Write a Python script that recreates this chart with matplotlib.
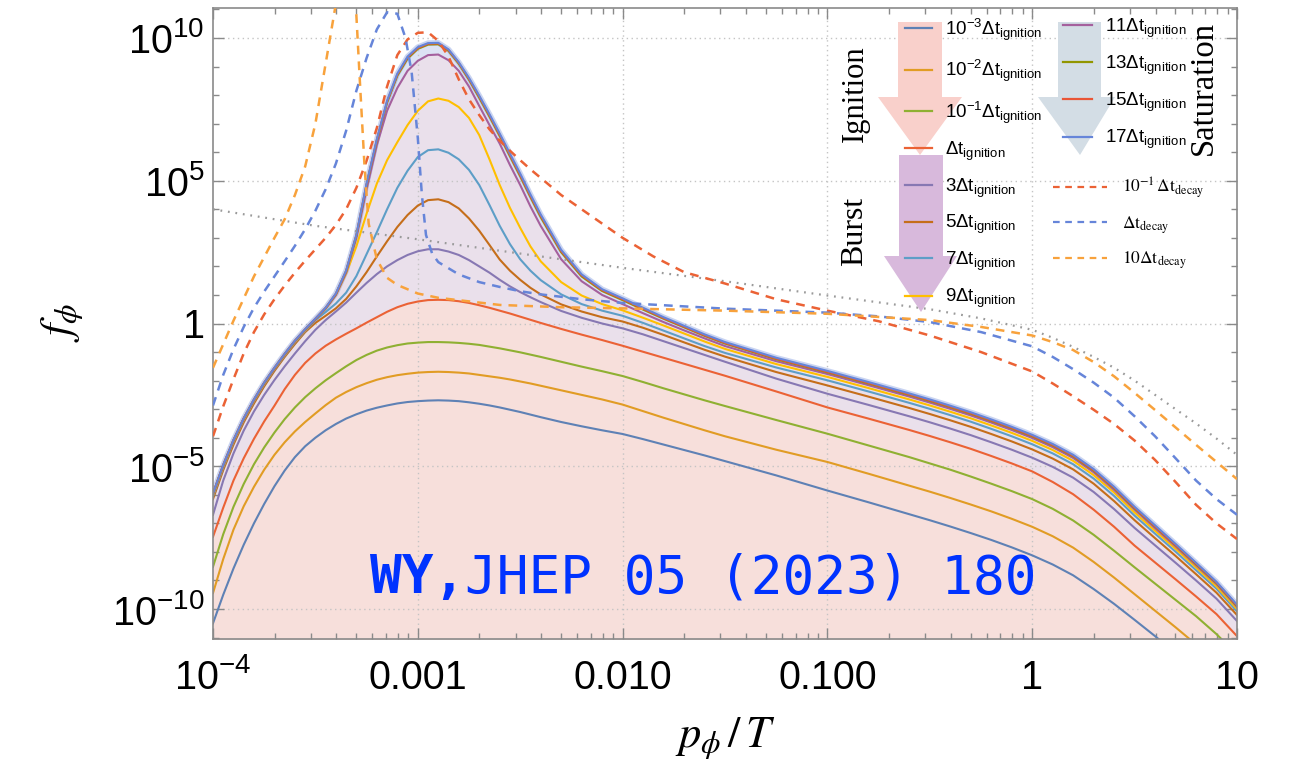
import numpy as np
import matplotlib
matplotlib.use('Agg')
import matplotlib.pyplot as plt
from matplotlib.lines import Line2D
from matplotlib.patches import Polygon
from matplotlib.ticker import FixedLocator, NullFormatter

plt.rcParams['font.family'] = ['Liberation Sans', 'DejaVu Sans']
plt.rcParams['mathtext.fontset'] = 'custom'
plt.rcParams['mathtext.rm'] = 'Liberation Sans'
plt.rcParams['mathtext.it'] = 'Liberation Sans:italic'
plt.rcParams['mathtext.bf'] = 'Liberation Sans:bold'
plt.rcParams['mathtext.sf'] = 'Liberation Sans'

# ---------------- data (log10 values) ----------------
log_p = [-4.0, -3.95, -3.9, -3.85, -3.8, -3.75, -3.7, -3.65, -3.6, -3.55,
         -3.5, -3.45, -3.4, -3.35, -3.3, -3.25, -3.2, -3.15, -3.1, -3.05,
         -3.0, -2.95, -2.9, -2.85, -2.8, -2.75, -2.7, -2.65, -2.6, -2.55,
         -2.5, -2.45, -2.4, -2.3, -2.2, -2.1, -2.0, -1.9, -1.8, -1.7,
         -1.6, -1.5, -1.25, -1.0, -0.8, -0.6, -0.5, -0.4, -0.3, -0.2, -0.1,
         0.0, 0.1, 0.2, 0.3, 0.4, 0.5, 0.6, 0.7, 0.8, 0.9, 1.0]

log_f_1em3 = [-10.5, -9.5, -8.58, -7.75, -7.0, -6.32, -5.7, -5.15, -4.68, -4.3,
              -4.0, -3.74, -3.52, -3.33, -3.18, -3.05, -2.95, -2.87, -2.8, -2.75,
              -2.72, -2.7, -2.69, -2.7, -2.72, -2.76, -2.81, -2.87, -2.94, -3.02,
              -3.1, -3.19, -3.28, -3.45, -3.6, -3.74, -3.87, -4.05, -4.24, -4.43,
              -4.62, -4.82, -5.32, -5.85, -6.26, -6.68, -6.89, -7.11, -7.34, -7.58, -7.84,
              -8.12, -8.44, -8.82, -9.3, -9.82, -10.38, -10.95, -11.55, -12.15, -12.8, -13.5]
log_f_1em2 = [-9.44, -8.25, -7.22, -6.4, -5.72, -5.12, -4.6, -4.16, -3.78, -3.45,
              -3.15, -2.86, -2.6, -2.4, -2.23, -2.09, -1.97, -1.88, -1.81, -1.76,
              -1.72, -1.7, -1.69, -1.7, -1.72, -1.75, -1.8, -1.85, -1.9, -1.96,
              -2.03, -2.1, -2.18, -2.34, -2.5, -2.66, -2.84, -3.07, -3.3, -3.52,
              -3.74, -3.95, -4.42, -4.85, -5.26, -5.68, -5.89, -6.11, -6.34, -6.58, -6.84,
              -7.12, -7.45, -7.85, -8.35, -8.9, -9.48, -10.06, -10.64, -11.24, -11.9, -12.6]
log_f_1em1 = [-8.52, -7.38, -6.42, -5.62, -4.93, -4.34, -3.82, -3.35, -2.94, -2.58,
              -2.27, -1.99, -1.74, -1.5, -1.28, -1.1, -0.95, -0.84, -0.76, -0.7,
              -0.67, -0.65, -0.65, -0.66, -0.68, -0.71, -0.75, -0.81, -0.87, -0.94,
              -1.01, -1.09, -1.17, -1.34, -1.51, -1.67, -1.84, -2.05, -2.27, -2.48,
              -2.69, -2.89, -3.38, -3.86, -4.27, -4.68, -4.9, -5.12, -5.36, -5.61, -5.87,
              -6.15, -6.49, -6.9, -7.4, -7.96, -8.54, -9.11, -9.68, -10.25, -10.88, -11.6]
log_f_1 = [-7.47, -6.45, -5.5, -4.72, -4.04, -3.43, -2.88, -2.3, -1.8, -1.38,
           -1.05, -0.78, -0.56, -0.36, -0.17, 0.03, 0.22, 0.41, 0.57, 0.69,
           0.77, 0.82, 0.83, 0.82, 0.78, 0.72, 0.64, 0.55, 0.45, 0.35,
           0.24, 0.13, 0.02, -0.19, -0.39, -0.58, -0.78, -0.99, -1.2, -1.41,
           -1.62, -1.83, -2.38, -2.94, -3.33, -3.73, -3.94, -4.16, -4.39, -4.64, -4.9,
           -5.18, -5.55, -5.98, -6.52, -7.12, -7.78, -8.37, -8.96, -9.56, -10.18, -10.95]
log_f_3 = [-6.7, -5.5, -4.55, -3.75, -3.08, -2.5, -1.98, -1.5, -1.05, -0.62,
           -0.22, 0.12, 0.42, 0.73, 1.08, 1.42, 1.73, 2.0, 2.22, 2.4,
           2.53, 2.6, 2.6, 2.52, 2.4, 2.22, 2.0, 1.78, 1.53, 1.3,
           1.1, 0.92, 0.75, 0.44, 0.2, 0.0, -0.17, -0.38, -0.62, -0.86,
           -1.1, -1.34, -1.93, -2.46, -2.85, -3.25, -3.46, -3.68, -3.91, -4.16, -4.42,
           -4.7, -5.02, -5.4, -5.9, -6.5, -7.16, -7.77, -8.38, -9.0, -9.64, -10.42]
log_f_5 = [-6.15, -5.13, -4.24, -3.46, -2.8, -2.2, -1.66, -1.17, -0.72, -0.3,
           0.02, 0.27, 0.53, 0.86, 1.3, 1.8, 2.35, 2.88, 3.38, 3.8,
           4.13, 4.32, 4.35, 4.25, 4.03, 3.68, 3.25, 2.75, 2.24, 1.85,
           1.53, 1.25, 1.02, 0.67, 0.42, 0.22, 0.07, -0.15, -0.4, -0.66,
           -0.92, -1.16, -1.7, -2.17, -2.56, -2.96, -3.17, -3.39, -3.62, -3.87, -4.13,
           -4.41, -4.73, -5.11, -5.61, -6.22, -6.89, -7.52, -8.14, -8.78, -9.43, -10.21]
log_f_7 = [-6.05, -5.04, -4.15, -3.38, -2.72, -2.13, -1.6, -1.12, -0.66, -0.26,
           0.12, 0.4, 0.7, 1.08, 1.66, 2.43, 3.2, 4.0, 4.75, 5.35,
           5.83, 6.07, 6.1, 5.98, 5.75, 5.38, 4.85, 4.15, 3.42, 2.78,
           2.25, 1.85, 1.52, 1.02, 0.68, 0.45, 0.27, 0.02, -0.25, -0.52,
           -0.79, -1.03, -1.54, -1.99, -2.38, -2.78, -2.99, -3.21, -3.44, -3.69, -3.95,
           -4.23, -4.55, -4.93, -5.43, -6.04, -6.73, -7.36, -7.99, -8.64, -9.29, -10.08]
log_f_9 = [-6.0, -5.0, -4.12, -3.36, -2.7, -2.11, -1.58, -1.1, -0.64, -0.24,
           0.15, 0.52, 1.0, 1.75, 2.7, 3.85, 4.9, 5.72, 6.35, 6.95,
           7.45, 7.78, 7.88, 7.8, 7.58, 7.2, 6.6, 5.75, 4.85, 4.05,
           3.35, 2.7, 2.18, 1.45, 0.98, 0.68, 0.46, 0.2, -0.07, -0.35,
           -0.63, -0.89, -1.42, -1.87, -2.26, -2.66, -2.87, -3.09, -3.32, -3.57, -3.83,
           -4.11, -4.43, -4.81, -5.31, -5.92, -6.62, -7.26, -7.89, -8.54, -9.21, -10.0]
log_f_11 = [-5.98, -4.98, -4.11, -3.35, -2.69, -2.1, -1.58, -1.09, -0.63, -0.23,
            0.14, 0.52, 1.0, 1.78, 3.0, 4.7, 6.25, 7.45, 8.25, 8.85,
            9.2, 9.4, 9.42, 9.22, 8.85, 8.3, 7.62, 6.95, 6.3, 5.55,
            4.85, 4.1, 3.42, 2.25, 1.48, 1.0, 0.68, 0.36, 0.05, -0.24,
            -0.52, -0.79, -1.32, -1.77, -2.16, -2.56, -2.77, -2.99, -3.22, -3.47, -3.73,
            -4.01, -4.33, -4.71, -5.21, -5.83, -6.52, -7.17, -7.81, -8.47, -9.13, -9.93]
log_f_13 = [-5.96, -4.96, -4.09, -3.33, -2.67, -2.08, -1.56, -1.07, -0.61, -0.21,
            0.16, 0.54, 1.03, 1.83, 3.07, 4.86, 6.4, 7.74, 8.68, 9.28,
            9.62, 9.77, 9.78, 9.55, 9.1, 8.54, 7.91, 7.25, 6.57, 5.86,
            5.16, 4.43, 3.73, 2.5, 1.65, 1.14, 0.82, 0.49, 0.17, -0.13,
            -0.43, -0.7, -1.25, -1.71, -2.1, -2.5, -2.71, -2.93, -3.16, -3.41, -3.67,
            -3.95, -4.27, -4.65, -5.15, -5.77, -6.47, -7.11, -7.76, -8.42, -9.09, -9.89]
log_f_15 = [-5.95, -4.95, -4.08, -3.32, -2.66, -2.07, -1.55, -1.06, -0.6, -0.2,
            0.17, 0.55, 1.04, 1.84, 3.09, 4.88, 6.43, 7.77, 8.72, 9.32,
            9.65, 9.8, 9.81, 9.58, 9.13, 8.57, 7.95, 7.29, 6.61, 5.9,
            5.2, 4.47, 3.78, 2.54, 1.69, 1.17, 0.85, 0.52, 0.19, -0.11,
            -0.41, -0.68, -1.23, -1.69, -2.08, -2.48, -2.69, -2.91, -3.14, -3.39, -3.65,
            -3.93, -4.25, -4.63, -5.13, -5.75, -6.45, -7.1, -7.75, -8.4, -9.07, -9.87]
log_f_17 = [-5.95, -4.95, -4.08, -3.32, -2.66, -2.07, -1.55, -1.06, -0.6, -0.2,
            0.17, 0.55, 1.05, 1.85, 3.1, 4.9, 6.45, 7.8, 8.75, 9.35,
            9.68, 9.82, 9.83, 9.6, 9.15, 8.6, 7.98, 7.33, 6.65, 5.95,
            5.25, 4.52, 3.82, 2.58, 1.72, 1.2, 0.88, 0.55, 0.22, -0.08,
            -0.38, -0.65, -1.2, -1.66, -2.05, -2.45, -2.66, -2.88, -3.11, -3.36, -3.62,
            -3.9, -4.22, -4.6, -5.1, -5.72, -6.42, -7.07, -7.72, -8.38, -9.05, -9.85]

decay01_logp = [-4.0, -3.95, -3.9, -3.85, -3.8, -3.75, -3.7, -3.65, -3.6, -3.55,
                -3.5, -3.45, -3.4, -3.35, -3.3, -3.25, -3.2, -3.15, -3.1, -3.05,
                -3.0, -2.95, -2.9, -2.85, -2.8, -2.75, -2.7, -2.65, -2.6, -2.55,
                -2.5, -2.45, -2.4, -2.3, -2.2, -2.1, -2.0, -1.85, -1.7, -1.5,
                -1.25, -1.0, -0.75, -0.5, -0.25, 0.0, 0.1, 0.2, 0.3, 0.4, 0.5, 0.6,
                0.7, 0.8, 0.9, 1.0]
decay01_logf = [-3.95, -2.9, -1.95, -1.05, -0.3, 0.32, 0.85, 1.33, 1.78, 2.2,
                2.6, 3.0, 3.45, 4.0, 4.75, 5.7, 6.85, 8.3, 9.4, 9.95,
                10.18, 10.2, 9.9, 9.35, 8.55, 7.85, 7.3, 6.8, 6.4, 6.05,
                5.72, 5.4, 5.1, 4.5, 4.0, 3.5, 3.0, 2.35, 1.8, 1.4,
                0.85, 0.45, 0.08, -0.42, -1.0, -1.68, -2.1, -2.55, -3.02, -3.52, -4.1, -4.78,
                -5.55, -6.35, -7.0, -7.55]
decay1_logp = [-4.0, -3.95, -3.9, -3.85, -3.8, -3.75, -3.7, -3.65, -3.6, -3.55,
               -3.5, -3.45, -3.4, -3.35, -3.3, -3.25, -3.2, -3.15, -3.1, -3.06,
               -3.03, -3.0, -2.98, -2.96, -2.93, -2.9, -2.8, -2.7, -2.6, -2.5,
               -2.4, -2.2, -2.0, -1.5, -1.0, -0.75, -0.5, -0.25, 0.0,
               0.1, 0.2, 0.3, 0.4, 0.5, 0.6, 0.7, 0.8, 0.9, 1.0]
decay1_logf = [-2.87, -1.8, -0.9, -0.12, 0.55, 1.12, 1.65, 2.18, 2.72, 3.3,
               3.95, 4.7, 5.6, 6.75, 8.15, 9.3, 10.3, 10.9, 10.85, 10.0,
               8.8, 6.5, 4.5, 3.1, 2.45, 2.15, 1.72, 1.45, 1.28, 1.13,
               1.02, 0.85, 0.72, 0.52, 0.38, 0.25, 0.05, -0.3, -0.8,
               -1.17, -1.6, -2.07, -2.6, -3.25, -3.95, -4.72, -5.5, -6.15, -6.7]
decay10_logp = [-4.0, -3.9, -3.8, -3.7, -3.65, -3.6, -3.55, -3.5, -3.45, -3.4,
                -3.35, -3.3, -3.28, -3.26, -3.24, -3.2, -3.15, -3.1, -3.0, -2.9,
                -2.6, -2.3, -2.0, -1.5, -1.0, -0.5, -0.25, 0.0, 0.1, 0.2, 0.3, 0.4,
                0.5, 0.6, 0.7, 0.8, 0.9, 1.0]
decay10_logf = [-1.55, 0.1, 1.65, 3.0, 3.65, 4.5, 5.5, 7.0, 9.1, 11.2,
                12.2, 10.8, 8.1, 5.5, 3.5, 2.25, 1.6, 1.35, 1.05, 0.9,
                0.65, 0.57, 0.53, 0.45, 0.34, 0.12, -0.12, -0.42, -0.65, -0.93, -1.35, -1.85,
                -2.43, -3.03, -3.64, -4.25, -4.85, -5.45]
equil_logp = [-4.0, -3.5, -3.0, -2.5, -2.0, -1.5, -1.0, -0.5, -0.25, 0.0, 0.1, 0.2, 0.3, 0.4,
              0.5, 0.6, 0.7, 0.8, 0.9, 1.0]
equil_logf = [4.0, 3.42, 2.95, 2.45, 1.95, 1.48, 0.98, 0.5, 0.18, -0.22, -0.5, -0.82, -1.17, -1.55,
              -2.0, -2.5, -3.0, -3.5, -4.03, -4.6]

ignition_labels = [r'$10^{-3}\Delta\mathrm{t}_{\mathrm{ignition}}$', r'$10^{-2}\Delta\mathrm{t}_{\mathrm{ignition}}$',
                   r'$10^{-1}\Delta\mathrm{t}_{\mathrm{ignition}}$', r'$\Delta\mathrm{t}_{\mathrm{ignition}}$',
                   r'$3\Delta\mathrm{t}_{\mathrm{ignition}}$', r'$5\Delta\mathrm{t}_{\mathrm{ignition}}$',
                   r'$7\Delta\mathrm{t}_{\mathrm{ignition}}$', r'$9\Delta\mathrm{t}_{\mathrm{ignition}}$',
                   r'$11\Delta\mathrm{t}_{\mathrm{ignition}}$', r'$13\Delta\mathrm{t}_{\mathrm{ignition}}$',
                   r'$15\Delta\mathrm{t}_{\mathrm{ignition}}$', r'$17\Delta\mathrm{t}_{\mathrm{ignition}}$']
ignition_colors = ['#5E81B5', '#E19C24', '#8FB032', '#EB6235', '#8778B3', '#C56E1A',
                   '#5D9EC7', '#FFBF00', '#A5609D', '#929600', '#E95536', '#6685D9']
decay_labels = [r'$10^{-1}\,\Delta\mathrm{t}_{\mathrm{decay}}$', r'$\Delta\mathrm{t}_{\mathrm{decay}}$',
                r'$10\Delta\mathrm{t}_{\mathrm{decay}}$']
decay_colors = ['#EB6235', '#6685D9', '#F8A23C']

xtick_vals = [1e-4, 1e-3, 1e-2, 1e-1, 1, 10]
xtick_text = [r'$10^{-4}$', '0.001', '0.010', '0.100', '1', '10']
ytick_vals = [1e-10, 1e-5, 1, 1e5, 1e10]
ytick_text = [r'$10^{-10}$', r'$10^{-5}$', '1', r'$10^{5}$', r'$10^{10}$']

# ---------------- figure ----------------
W, H = 1307, 770
fig = plt.figure(figsize=(W / 100, H / 100), dpi=100)
ax = fig.add_axes([213 / W, 1 - 639 / H, (1237 - 213) / W, (639 - 8) / H])


def P(x, y):
    return (x / W, 1 - y / H)


p = np.power(10.0, log_p)
series = [log_f_1em3, log_f_1em2, log_f_1em1, log_f_1, log_f_3, log_f_5, log_f_7, log_f_9,
          log_f_11, log_f_13, log_f_15, log_f_17]
F = [np.power(10.0, s) for s in series]

ax.set_xscale('log')
ax.set_yscale('log')
ax.set_xlim(1e-4, 10)
ax.set_ylim(10 ** -11.05, 10 ** 11.05)

# fills
ax.fill_between(p, 1e-13, F[3], color='#F7DFDB', lw=0, zorder=0.5)
ax.fill_between(p, F[3], F[11], color='#EAE0EB', lw=0, zorder=0.5)
ax.fill_between(p, F[8], F[11], color='#DDE3F4', lw=0, zorder=0.6)

# grid
for xv in [1e-3, 1e-2, 1e-1, 1]:
    ax.axvline(xv, color='#c4c4c4', lw=1.0, ls=(0, (1, 2.5)), zorder=1)
for yv in ytick_vals:
    ax.axhline(yv, color='#c4c4c4', lw=1.0, ls=(0, (1, 2.5)), zorder=1)

# solid curves
for i, (f, c) in enumerate(zip(F, ignition_colors)):
    if i == 11:
        ax.plot(p, f, color=c, lw=4.0, alpha=0.35, zorder=2, solid_capstyle='round')
    ax.plot(p, f, color=c, lw=1.5, zorder=2.1 + i * 0.01, solid_joinstyle='round')

# equilibrium dotted
ax.plot(np.power(10.0, equil_logp), np.power(10.0, equil_logf), color='#9a9a9a', lw=1.6,
        ls=(0, (0.8, 2.6)), zorder=3)

# dashed decay curves
dash = (0, (3.5, 2.8))
ax.plot(np.power(10.0, decay01_logp), np.power(10.0, decay01_logf), color=decay_colors[0], lw=1.8, ls=dash, zorder=3)
ax.plot(np.power(10.0, decay1_logp), np.power(10.0, decay1_logf), color=decay_colors[1], lw=1.8, ls=dash, zorder=3)
ax.plot(np.power(10.0, decay10_logp), np.power(10.0, decay10_logf), color=decay_colors[2], lw=1.8, ls=dash, zorder=3)

# ticks
ax.xaxis.set_major_locator(FixedLocator(xtick_vals))
ax.set_xticklabels(xtick_text)
minor_x = [m * 10.0 ** k for k in range(-4, 1) for m in range(2, 10)]
ax.xaxis.set_minor_locator(FixedLocator(minor_x))
ax.xaxis.set_minor_formatter(NullFormatter())
ax.yaxis.set_major_locator(FixedLocator(ytick_vals))
ax.set_yticklabels(ytick_text)
minor_y = [10.0 ** k for k in range(-11, 12) if k % 5 != 0]
ax.yaxis.set_minor_locator(FixedLocator(minor_y))
ax.yaxis.set_minor_formatter(NullFormatter())
ax.tick_params(which='both', direction='in', top=True, right=True, color='#8a8a8a', width=1.0)
ax.tick_params(which='major', length=8, labelsize=28.5)
ax.tick_params(which='minor', length=4.5)
ax.tick_params(axis='y', pad=6)
ax.tick_params(axis='x', pad=36)
for lab in ax.get_xticklabels():
    lab.set_va('baseline')
for s in ax.spines.values():
    s.set_color('#8a8a8a')
    s.set_linewidth(1.2)

# axis labels
fig.text(*P(62, 322), r'$f_{\phi}$', fontsize=32, rotation=90, ha='center', va='center', math_fontfamily='stix')
fig.text(*P(725, 738), r'$p_{\phi}\,/\,T$', fontsize=32, ha='center', va='center', math_fontfamily='stix')

# arrows
arrow_ign = [(898, 22), (942, 22), (942, 97), (962, 97), (920, 155), (878, 97), (898, 97)]
arrow_burst = [(899, 155), (943, 155), (943, 256), (957, 256), (921, 312), (884, 256), (899, 256)]
arrow_sat = [(1058, 22), (1101, 22), (1101, 97), (1115, 97), (1080, 155), (1038, 97), (1058, 97)]
for pts, col in [(arrow_ign, '#F9D0CB'), (arrow_burst, '#D8B9DC'), (arrow_sat, '#D3DDE5')]:
    fig.add_artist(Polygon([P(*q) for q in pts], closed=True, transform=fig.transFigure,
                           facecolor=col, edgecolor='none', zorder=4))

fig.text(*P(855, 94), 'Ignition', rotation=90, fontsize=22, family='Liberation Serif', ha='center', va='center', zorder=5)
fig.text(*P(855, 231), 'Burst', rotation=90, fontsize=23, family='Liberation Serif', ha='center', va='center', zorder=5)
fig.text(*P(1204, 88), 'Saturation', rotation=90, fontsize=23.5, family='Liberation Serif', ha='center', va='center', zorder=5)

# legend
col1_y = [28.3, 70, 111, 148.3, 185, 221.7, 258.3, 295.7]
col2_y = [25, 62.3, 99.3, 136.7]
for i in range(12):
    if i < 8:
        y, x0, x1, xt = col1_y[i], 905, 932, 945
    else:
        y, x0, x1, xt = col2_y[i - 8], 1063, 1092, 1105
    fig.add_artist(Line2D([x0 / W, x1 / W], [1 - y / H] * 2, transform=fig.transFigure,
                          color=ignition_colors[i], lw=1.6, zorder=6))
    fig.text(*P(xt, y + 6.5), ignition_labels[i], fontsize=13.5, ha='left', va='baseline', zorder=6)
dec_y = [186.7, 222.3, 257.7]
for i in range(3):
    y = dec_y[i]
    fig.add_artist(Line2D([1053 / W, 1107 / W], [1 - y / H] * 2, transform=fig.transFigure,
                          color=decay_colors[i], lw=1.6, ls=(0, (3, 2.5)), zorder=6))
    fig.text(*P(1122, y + 6), decay_labels[i], fontsize=12.5, ha='left', va='baseline',
             math_fontfamily='stix', zorder=6)

# watermark
fig.text(*P(370, 593), 'WY,', fontsize=38, family='DejaVu Sans Mono', weight='bold',
         color='#0033ff', ha='left', va='baseline', zorder=7)
fig.text(*P(465, 593), 'JHEP 05 (2023) 180', fontsize=38, family='DejaVu Sans Mono',
         color='#0033ff', ha='left', va='baseline', zorder=7)

fig.savefig('out.png', dpi=100)
